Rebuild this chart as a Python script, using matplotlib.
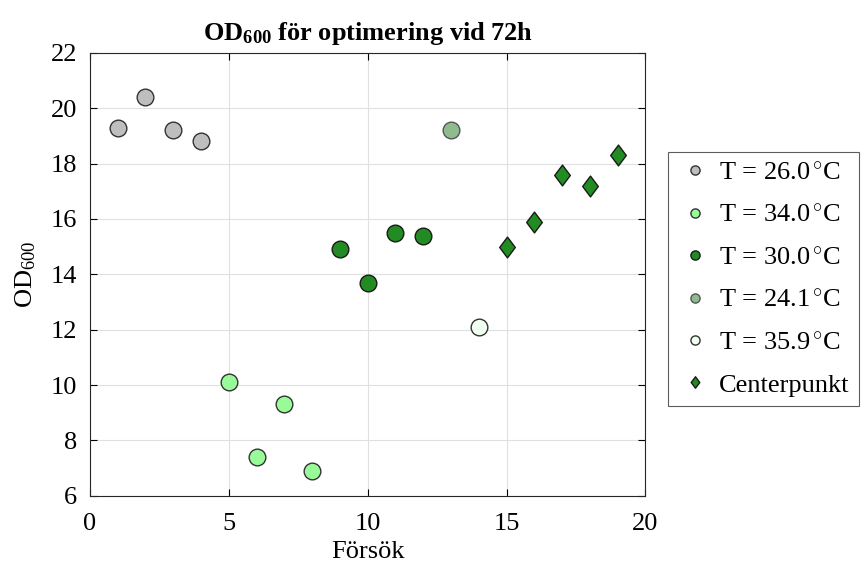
import matplotlib
matplotlib.use('Agg')
import matplotlib.pyplot as plt
from matplotlib.path import Path

plt.rcParams['font.family'] = ['Liberation Serif', 'DejaVu Serif']
plt.rcParams['mathtext.fontset'] = 'custom'
plt.rcParams['mathtext.rm'] = 'Liberation Serif'
plt.rcParams['mathtext.it'] = 'Liberation Serif:italic'
plt.rcParams['mathtext.bf'] = 'Liberation Serif:bold'

# data
x_t260 = [1, 2, 3, 4]
y_t260 = [19.3, 20.4, 19.2, 18.8]
x_t340 = [5, 6, 7, 8]
y_t340 = [10.1, 7.4, 9.3, 6.9]
x_t300 = [9, 10, 11, 12]
y_t300 = [14.9, 13.7, 15.5, 15.4]
x_t241 = [13]
y_t241 = [19.2]
x_t359 = [14]
y_t359 = [12.1]
x_center = [15, 16, 17, 18, 19]
y_center = [15.0, 15.9, 17.6, 17.2, 18.3]

labels = ['T = 26.0$\\,^{\\circ}$C', 'T = 34.0$\\,^{\\circ}$C', 'T = 30.0$\\,^{\\circ}$C',
          'T = 24.1$\\,^{\\circ}$C', 'T = 35.9$\\,^{\\circ}$C', 'Centerpunkt']

# matlab style diamond (wider than mpl 'd')
diamond = Path([(0, 1), (0.75, 0), (0, -1), (-0.75, 0), (0, 1)],
               [Path.MOVETO, Path.LINETO, Path.LINETO, Path.LINETO, Path.CLOSEPOLY])

fig = plt.figure(figsize=(8.64, 5.68), dpi=100)
ax = fig.add_axes([0.104, 0.127, 0.643, 0.78])

ax.plot(x_t260, y_t260, 'o', ms=12, mfc='#bebebe', mec='#333333', mew=1, label=labels[0])
ax.plot(x_t340, y_t340, 'o', ms=12, mfc='#98fb98', mec='#333333', mew=1, label=labels[1])
ax.plot(x_t300, y_t300, 'o', ms=12, mfc='#228b22', mec='#1a1a1a', mew=1, label=labels[2])
ax.plot(x_t241, y_t241, 'o', ms=12, mfc='#8fbc8f', mec='#555555', mew=1, label=labels[3])
ax.plot(x_t359, y_t359, 'o', ms=12, mfc='#f0fff0', mec='#333333', mew=1, label=labels[4])
ax.plot(x_center, y_center, marker=diamond, ls='none', ms=15, mfc='#228b22',
        mec='#1a1a1a', mew=1, label=labels[5])

ax.set_xlim(0, 20)
ax.set_ylim(6, 22)
ax.set_xticks([0, 5, 10, 15, 20])
ax.set_yticks(range(6, 23, 2))
ax.grid(True, color='#e0e0e0', linewidth=0.8)
ax.set_axisbelow(True)
ax.tick_params(direction='in', top=True, right=True, labelsize=19, length=5)
ax.tick_params(axis='x', pad=12)
ax.tick_params(axis='y', pad=9)
for s in ax.spines.values():
    s.set_linewidth(0.8)
    s.set_color('#262626')

ax.set_xlabel('Försök', fontsize=19, labelpad=5)
ax.set_ylabel('OD$_{600}$', fontsize=19, labelpad=9)
ax.set_title(r'$\mathbf{OD_{600}}$ för optimering vid 72h', fontsize=19,
             fontweight='bold', pad=9)

leg = ax.legend(loc='center left', bbox_to_anchor=(1.04, 0.49), fontsize=19,
                markerscale=0.55, frameon=True, fancybox=False, edgecolor='#333333',
                handletextpad=0.2, labelspacing=0.72, borderpad=0.35, handlelength=1.4,
                borderaxespad=0)
leg.get_frame().set_linewidth(0.8)

plt.savefig('out.png', dpi=100)
